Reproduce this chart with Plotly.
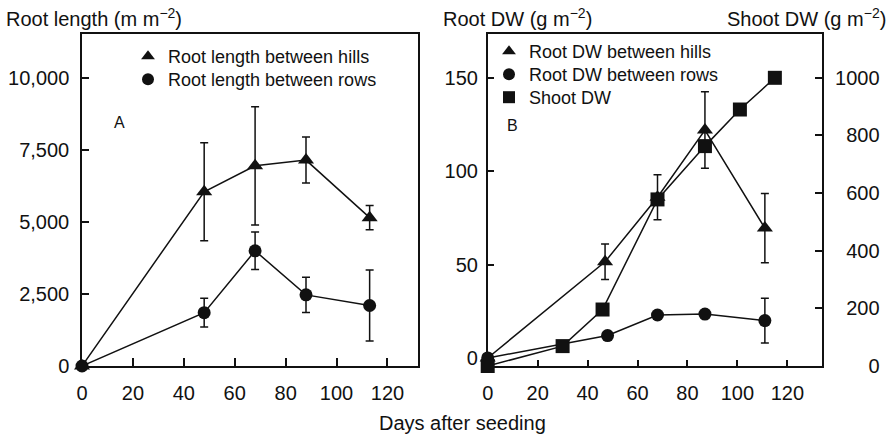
import plotly.graph_objects as go

# ---- Panel A: root length (m m^-2) ----
days_a = [0, 48, 68, 88, 113]
len_hills = [0, 6050, 6950, 7150, 5150]
len_hills_err = [0, 1700, 2050, 800, 420]
len_rows = [0, 1850, 4000, 2470, 2100]
len_rows_err = [0, 500, 650, 615, 1230]

# ---- Panel B: root and shoot dry weight (g m^-2) ----
days_b_hills = [0, 47, 68, 87, 111]
dw_hills = [0, 51.5, 86, 122, 69.5]
dw_hills_err = [0, 9.5, 12, 20.5, 18.5]
days_b_rows = [0, 48, 68, 87, 111]
dw_rows = [0, 12, 23, 23.5, 20]
dw_rows_err = [0, 0, 0, 0, 12]
days_shoot = [0, 30, 46, 68, 87, 101, 115]
dw_shoot = [0, 69, 196, 578, 763, 890, 1000]

x_ticks = [0, 20, 40, 60, 80, 100, 120]
len_ticks = [0, 2500, 5000, 7500, 10000]
len_tick_text = ["0", "2,500", "5,000", "7,500", "10,000"]
dw_ticks = [0, 50, 100, 150]
shoot_ticks = [0, 200, 400, 600, 800, 1000]

FONT = "Liberation Sans, Arial, sans-serif"
BLACK = "#111111"
W, H = 896, 436


def err(vals):
    return dict(type="data", array=vals, visible=True, color=BLACK,
                thickness=1.5, width=4)


line = dict(color=BLACK, width=1.5)
tri = dict(symbol="triangle-up", size=14, color=BLACK)
dot = dict(symbol="circle", size=13, color=BLACK)
sq = dict(symbol="square", size=14, color=BLACK)

fig = go.Figure()

# Panel A traces
fig.add_trace(go.Scatter(x=days_a, y=len_hills, error_y=err(len_hills_err),
                         mode="lines+markers", line=line, marker=tri,
                         xaxis="x", yaxis="y", showlegend=False, cliponaxis=False))
fig.add_trace(go.Scatter(x=days_a, y=len_rows, error_y=err(len_rows_err),
                         mode="lines+markers", line=line, marker=dot,
                         xaxis="x", yaxis="y", showlegend=False, cliponaxis=False))

# Panel B traces
fig.add_trace(go.Scatter(x=days_shoot, y=dw_shoot,
                         mode="lines+markers", line=line, marker=sq,
                         xaxis="x2", yaxis="y3", showlegend=False, cliponaxis=False))
fig.add_trace(go.Scatter(x=days_b_hills, y=dw_hills, error_y=err(dw_hills_err),
                         mode="lines+markers", line=line, marker=tri,
                         xaxis="x2", yaxis="y2", showlegend=False, cliponaxis=False))
fig.add_trace(go.Scatter(x=days_b_rows, y=dw_rows, error_y=err(dw_rows_err),
                         mode="lines+markers", line=line, marker=dot,
                         xaxis="x2", yaxis="y2", showlegend=False, cliponaxis=False))

# Legend entries (markers only), one small legend box per entry
legend_items = [
    ("Root length between hills", tri, "legend", 128, 38),
    ("Root length between rows", dot, "legend2", 128, 61),
    ("Root DW between hills", tri, "legend3", 489, 33),
    ("Root DW between rows", dot, "legend4", 489, 56),
    ("Shoot DW", sq, "legend5", 489, 79),
]
legend_layout = {}
for name, mk, lg, lx, ly in legend_items:
    panel_a = lg in ("legend", "legend2")
    fig.add_trace(go.Scatter(x=[None], y=[None], mode="markers", marker=mk,
                             name=name, legend=lg,
                             xaxis="x" if panel_a else "x2",
                             yaxis="y" if panel_a else "y2"))
    legend_layout[lg] = dict(x=lx / W, y=1 - ly / H, xanchor="left", yanchor="top",
                             bgcolor="rgba(0,0,0,0)",
                             font=dict(family=FONT, size=18, color=BLACK),
                             itemsizing="constant", tracegroupgap=0)

ydom = [1 - 366 / H, 1 - 34 / H]
tickfont = dict(family=FONT, size=20, color=BLACK)
ax_common = dict(showline=True, linecolor=BLACK, linewidth=1.5, ticks="inside",
                 tickcolor=BLACK, tickwidth=1.5, showgrid=False, zeroline=False,
                 tickfont=tickfont, automargin=False, fixedrange=True)

fig.update_layout(
    width=W, height=H,
    margin=dict(l=0, r=0, t=0, b=0),
    paper_bgcolor="white", plot_bgcolor="white",
    font=dict(family=FONT, color=BLACK),
    xaxis=dict(domain=[82 / W, 418 / W], range=[0, 132], tickvals=x_ticks,
               ticklen=8, mirror=True, anchor="y", ticklabelstandoff=8,
               **ax_common),
    yaxis=dict(domain=ydom, range=[0, 11528], tickvals=len_ticks,
               ticktext=len_tick_text, ticklen=7, mirror=True, anchor="x",
               ticklabelstandoff=7, **ax_common),
    xaxis2=dict(domain=[487.7 / W, 822.3 / W], range=[0, 134], tickvals=x_ticks,
                ticklen=6, mirror=True, anchor="y2", ticklabelstandoff=8,
                **ax_common),
    yaxis2=dict(domain=ydom, range=[-4.3, 173.4], tickvals=dw_ticks, ticklen=7,
                anchor="x2", ticklabelstandoff=4, **ax_common),
    yaxis3=dict(domain=ydom, range=[0, 1152], tickvals=shoot_ticks,
                ticktext=["\u2007" * (4 - len(str(v))) + str(v) for v in shoot_ticks],
                ticklen=8, overlaying="y2", side="right", anchor="x2",
                ticklabelstandoff=7, **ax_common),
    **legend_layout,
)

annots = [
    dict(text="Root length (m m<sup>\u22122</sup>)", x=4 / W, y=1 - 18 / H,
         xanchor="left", size=20),
    dict(text="Root DW (g m<sup>\u22122</sup>)", x=441 / W, y=1 - 18 / H,
         xanchor="left", size=20),
    dict(text="Shoot DW (g m<sup>\u22122</sup>)", x=888 / W, y=1 - 18 / H,
         xanchor="right", size=20),
    dict(text="Days after seeding", x=462 / W, y=1 - 423 / H,
         xanchor="center", size=20),
    dict(text="A", x=119 / W, y=1 - 123 / H, xanchor="center", size=16),
    dict(text="B", x=512 / W, y=1 - 126 / H, xanchor="center", size=16),
]
for a in annots:
    fig.add_annotation(text=a["text"], x=a["x"], y=a["y"], xref="paper",
                       yref="paper", xanchor=a["xanchor"], yanchor="middle",
                       showarrow=False,
                       font=dict(family=FONT, size=a["size"], color=BLACK))

fig.write_html("out.html")
